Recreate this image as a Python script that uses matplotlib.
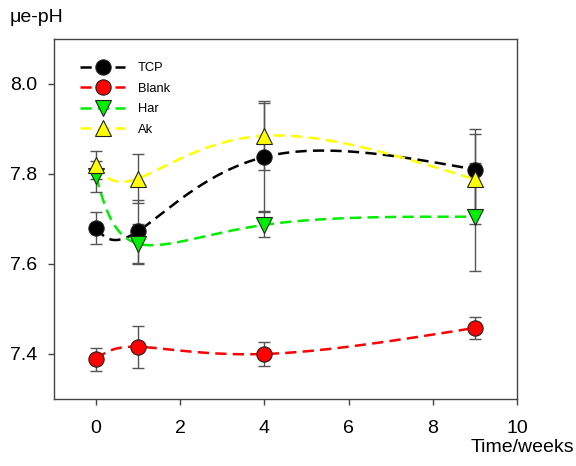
import numpy as np
import matplotlib.pyplot as plt
from matplotlib.lines import Line2D

plt.rcParams['font.family'] = ['Liberation Sans', 'DejaVu Sans']

weeks = [0, 1, 4, 9]
tcp = [7.680, 7.673, 7.838, 7.810]
tcp_err = [0.036, 0.070, 0.120, 0.090]
blank = [7.388, 7.416, 7.400, 7.458]
blank_err = [0.025, 0.047, 0.027, 0.024]
har = [7.795, 7.645, 7.687, 7.705]
har_err = [0.035, 0.045, 0.028, 0.120]
ak = [7.820, 7.790, 7.885, 7.788]
ak_err = [0.030, 0.054, 0.077, 0.100]

names = ['TCP', 'Blank', 'Har', 'Ak']
colors = ['#000000', '#ff0000', '#00ee00', '#ffff00']
markers = ['o', 'o', 'v', '^']


def natural_coeffs(t, y):
    k = len(t)
    h = np.diff(t)
    A = np.zeros((k, k))
    b = np.zeros(k)
    A[0, 0] = A[-1, -1] = 1
    for i in range(1, k - 1):
        A[i, i - 1] = h[i - 1]
        A[i, i] = 2 * (h[i - 1] + h[i])
        A[i, i + 1] = h[i]
        b[i] = 6 * ((y[i + 1] - y[i]) / h[i] - (y[i] - y[i - 1]) / h[i - 1])
    return np.linalg.solve(A, b)


def eval_spline(t, y, m, ts):
    k = len(t)
    idx = np.clip(np.searchsorted(t, ts) - 1, 0, k - 2)
    t0, t1 = t[idx], t[idx + 1]
    hh = t1 - t0
    a, b = t1 - ts, ts - t0
    return (m[idx] * a ** 3 + m[idx + 1] * b ** 3) / (6 * hh) \
        + (y[idx] / hh - m[idx] * hh / 6) * a \
        + (y[idx + 1] / hh - m[idx + 1] * hh / 6) * b


def smooth_curve(x, y, n=300):
    # parametric natural spline, one parameter step per data point
    x = np.asarray(x, float)
    y = np.asarray(y, float)
    t = np.arange(len(x), dtype=float)
    ts = np.linspace(0, t[-1], n)
    xs = eval_spline(t, x, natural_coeffs(t, x), ts)
    ys = eval_spline(t, y, natural_coeffs(t, y), ts)
    return xs, ys


fig = plt.figure(figsize=(5.76, 4.66), dpi=100)
ax = fig.add_axes([54 / 576, 1 - 399 / 466, 463 / 576, 360 / 466])

series = [(tcp, tcp_err), (blank, blank_err), (har, har_err), (ak, ak_err)]
for (vals, errs), c in zip(series, colors):
    xs, ys = smooth_curve(weeks, vals)
    ax.plot(xs, ys, color=c, lw=1.8, dashes=(4.5, 2.5), zorder=2)

for (vals, errs), c, mk in zip(series, colors, markers):
    ax.errorbar(weeks, vals, yerr=errs, fmt='none', ecolor='#555555',
                elinewidth=1, capsize=4, capthick=1, zorder=3)
for (vals, errs), c, mk in zip(series, colors, markers):
    ax.plot(weeks, vals, ls='none', marker=mk, ms=11, mfc=c, mec='#222222',
            mew=0.8, zorder=4)

ax.set_xlim(-1, 10)
ax.set_ylim(7.3, 8.1)
ax.set_xticks([0, 2, 4, 6, 8, 10])
ax.set_yticks([7.4, 7.6, 7.8, 8.0])
ax.set_yticklabels(['7.4', '7.6', '7.8', '8.0'])
ax.tick_params(direction='out', length=4.3, width=1, colors='#444444',
               labelcolor='black', labelsize=14)
ax.tick_params(axis='x', pad=11)
ax.tick_params(axis='y', pad=8)
for s in ax.spines.values():
    s.set_color('#444444')
    s.set_linewidth(1)

handles = [Line2D([], [], color=c, lw=1.8, dashes=(4.5, 2.5), marker=mk,
                  ms=11, mfc=c, mec='#222222', mew=0.8)
           for c, mk in zip(colors, markers)]
ax.legend(handles, names, loc='upper left', bbox_to_anchor=(0.056, 0.935),
          frameon=False, fontsize=9.3, handlelength=3.5, handletextpad=1.0,
          labelspacing=0.65, borderpad=0, borderaxespad=0)

fig.text(10 / 576, 1 - 18 / 466, 'μe-pH', fontsize=14, va='center', ha='left')
fig.text(574 / 576, 1 - 447 / 466, 'Time/weeks', fontsize=14, va='center',
         ha='right')

fig.savefig('out.png', dpi=100)
